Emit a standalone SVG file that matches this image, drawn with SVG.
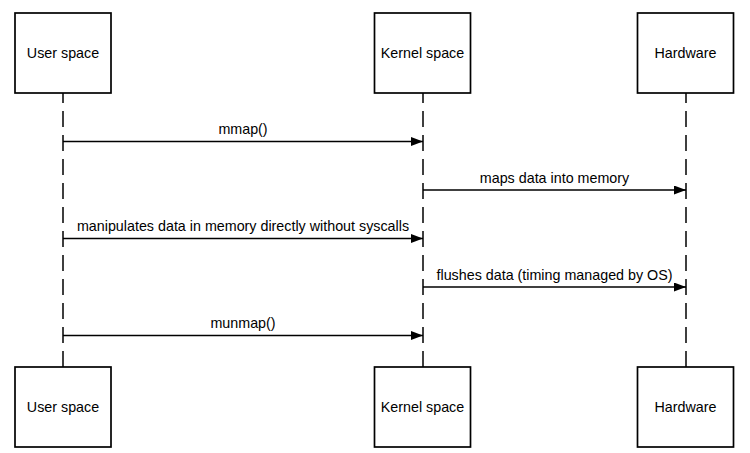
<svg xmlns="http://www.w3.org/2000/svg" width="750" height="453" viewBox="0 0 750 453">
<style>
.box{fill:#fff;stroke:#000;stroke-width:1.7}
.life{stroke:#000;stroke-width:1.5;stroke-dasharray:16 8;stroke-dashoffset:6;fill:none}
.msg{stroke:#000;stroke-width:1.5;fill:none;marker-end:url(#ah)}
text{font-family:"Liberation Sans",Arial,sans-serif;font-size:14.3px;fill:#000;text-anchor:middle}
</style>
<defs>
<marker id="ah" markerUnits="userSpaceOnUse" markerWidth="13" markerHeight="10" refX="12" refY="4.5" orient="auto">
<path d="M0,0 L12,4.5 L0,9 Z" fill="#000"/>
</marker>
</defs>
<rect width="750" height="453" fill="#fff"/>
<g id="lifelines">
<line class="life" x1="63" y1="93" x2="63" y2="367"/>
<line class="life" x1="423" y1="93" x2="423" y2="367"/>
<line class="life" x1="686" y1="93" x2="686" y2="367"/>
</g>
<g id="connectors">
<line class="msg" x1="63" y1="141.5" x2="423" y2="141.5"/>
<text x="243" y="134">mmap()</text>
<line class="msg" x1="423" y1="190" x2="686" y2="190"/>
<text x="554.5" y="182.5">maps data into memory</text>
<line class="msg" x1="63" y1="238.5" x2="423" y2="238.5"/>
<text x="243" y="231">manipulates data in memory directly without syscalls</text>
<line class="msg" x1="423" y1="287" x2="686" y2="287"/>
<text x="554.5" y="279.5">flushes data (timing managed by OS)</text>
<line class="msg" x1="63" y1="335.5" x2="423" y2="335.5"/>
<text x="243" y="328">munmap()</text>
</g>
<g id="user-top"><rect class="box" x="15" y="13" width="96" height="80"/><text x="63" y="58">User space</text></g>
<g id="kernel-top"><rect class="box" x="374.5" y="13" width="96" height="80"/><text x="422.5" y="58">Kernel space</text></g>
<g id="hardware-top"><rect class="box" x="637.5" y="13" width="96" height="80"/><text x="685.5" y="58">Hardware</text></g>
<g id="user-bottom"><rect class="box" x="15" y="367" width="96" height="80"/><text x="63" y="412">User space</text></g>
<g id="kernel-bottom"><rect class="box" x="374.5" y="367" width="96" height="80"/><text x="422.5" y="412">Kernel space</text></g>
<g id="hardware-bottom"><rect class="box" x="637.5" y="367" width="96" height="80"/><text x="685.5" y="412">Hardware</text></g>
</svg>
